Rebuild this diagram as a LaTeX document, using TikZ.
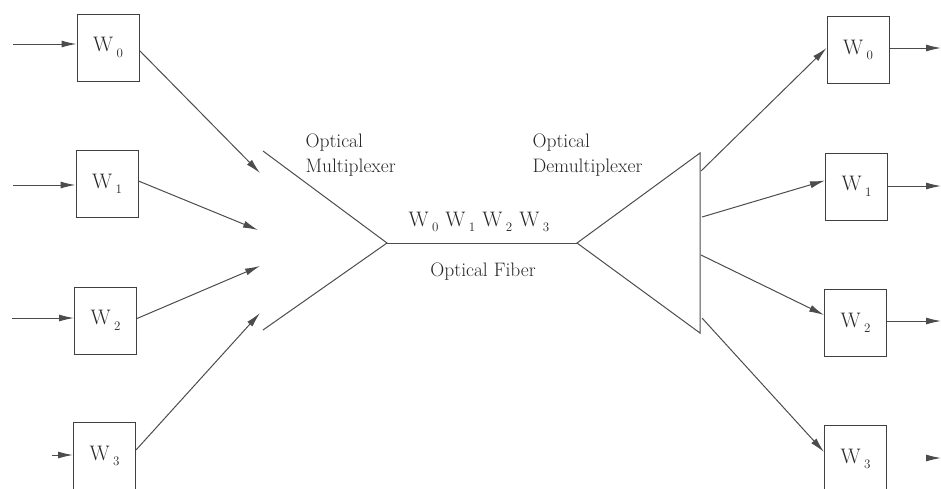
\documentclass[tikz,border=0pt]{standalone}
\usetikzlibrary{arrows.meta}
\newcommand{\wl}[1]{W\kern3.5pt\raisebox{-0.6ex}{\fontsize{13}{13}\selectfont #1}}
\begin{document}
\begin{tikzpicture}[x=1pt,y=-1pt,
  line width=1pt, draw=black!70,
  chan/.style={draw=black!75, minimum width=62pt, minimum height=67pt, inner sep=0pt,
    font=\fontsize{21}{21}\selectfont, text=black!85},
  sig/.style={-{Latex[length=15pt,width=7pt]}, draw=black!70},
  lbl/.style={anchor=west, inner sep=0pt, align=left, text=black!85,
    font=\fontsize{19.5}{25}\selectfont}]
\useasboundingbox (0,0) rectangle (941,488);

% transmitter channels
\node[chan] (L0) at (108,47.5) {\wl{0}};
\node[chan] (L1) at (107,184) {\wl{1}};
\node[chan] (L2) at (105.5,320.5) {\wl{2}};
\node[chan] (L3) at (104.5,456) {\wl{3}};

% receiver channels
\node[chan] (R0) at (858,50) {\wl{0}};
\node[chan] (R1) at (856.5,186.5) {\wl{1}};
\node[chan] (R2) at (855.5,323) {\wl{2}};
\node[chan] (R3) at (855.5,459) {\wl{3}};

% multiplexer, fibre and demultiplexer outline
\coordinate (m1) at (263,151);
\coordinate (m2) at (387,243);
\coordinate (m3) at (263,330);
\coordinate (d1) at (577,243);
\coordinate (d2) at (700,153);
\coordinate (d3) at (700,333);
\draw (m1) -- (m2) -- (m3);
\draw (m2) -- (d1);
\draw (d1) -- (d2) -- (d3) -- cycle;

% input signals
\coordinate (i0) at (13,44);
\coordinate (i1) at (13,185);
\coordinate (i2) at (12,318);
\coordinate (i3) at (52,455);
\draw[sig] (i0) -- (i0 -| L0.west);
\draw[sig] (i1) -- (i1 -| L1.west);
\draw[sig] (i2) -- (i2 -| L2.west);
\draw[sig] (i3) -- (i3 -| L3.west);

% channels into the multiplexer
\coordinate (t0) at (260,173);
\coordinate (t1) at (258,230);
\coordinate (t2) at (260,266);
\coordinate (t3) at (260,313);
\draw[sig] ([yshift=-3pt]L0.east) -- (t0);
\draw[sig] ([yshift=3pt]L1.east) -- (t1);
\draw[sig] ([yshift=2pt]L2.east) -- (t2);
\draw[sig] ([yshift=6pt]L3.east) -- (t3);

% demultiplexer outputs
\coordinate (s0) at (701,171);
\coordinate (s1) at (702,217);
\coordinate (s2) at (701,255);
\coordinate (s3) at (702,318);
\draw[sig] (s0) -- ([yshift=2pt]R0.west);
\draw[sig] (s1) -- ([yshift=6pt]R1.west);
\draw[sig] (s2) -- ([yshift=8pt]R2.west);
\draw[sig] (s3) -- ([yshift=7pt]R3.west);

% output signals
\coordinate (o0) at (941,48);
\coordinate (o1) at (941,186);
\coordinate (o2) at (941,321);
\coordinate (o3) at (926,458);
\draw[sig] (o0 -| R0.east) -- (o0);
\draw[sig] (o1 -| R1.east) -- (o1);
\draw[sig] (o2 -| R2.east) -- (o2);
\draw[sig] (o3) -- ++(15,0);

% labels
\node[lbl] (mux) at (305,155) {Optical\\Multiplexer};
\node[lbl] (demux) at (532,155) {Optical\\Demultiplexer};
\node[lbl, font=\fontsize{21}{21}\selectfont] (wdm) at (408,222) {\wl{0}\hspace{7pt}\wl{1}\hspace{7pt}\wl{2}\hspace{7pt}\wl{3}};
\node[lbl, anchor=center] (fiber) at (483,272) {Optical Fiber};
\end{tikzpicture}
\end{document}
